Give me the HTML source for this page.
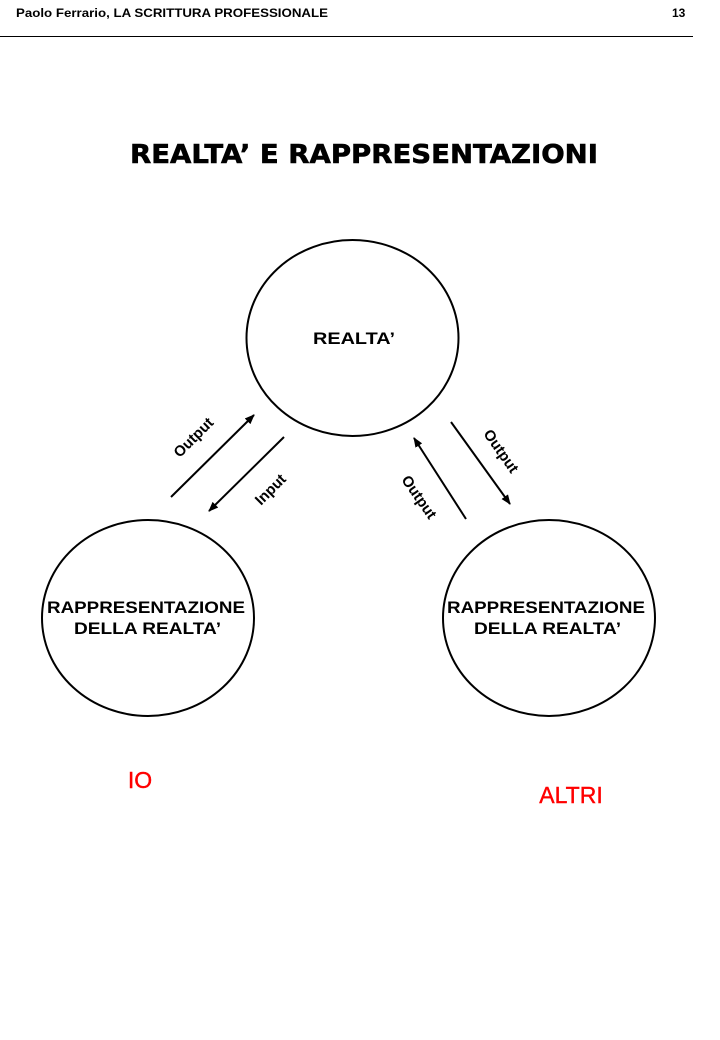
<!DOCTYPE html>
<html><head><meta charset="utf-8"><style>
html,body{margin:0;padding:0;background:#fff;width:720px;height:1040px;overflow:hidden}
</style></head><body>
<svg width="720" height="1040" viewBox="0 0 720 1040" xmlns="http://www.w3.org/2000/svg">
<defs><marker id="a" markerWidth="10" markerHeight="8" refX="9" refY="4" orient="auto" markerUnits="userSpaceOnUse"><path d="M0,0 L10,4 L0,8 z" fill="#000"/></marker></defs>
<g font-family="Liberation Sans, sans-serif" font-weight="bold">
<text x="16" y="17" font-size="12" textLength="312" lengthAdjust="spacingAndGlyphs">Paolo Ferrario, LA SCRITTURA PROFESSIONALE</text>
<text x="672" y="17" font-size="12">13</text>
<line x1="0" y1="36.5" x2="693" y2="36.5" stroke="#000" stroke-width="1"/>
<text x="130" y="163" font-family="DejaVu Sans, sans-serif" font-size="26" stroke="#000" stroke-width="0.6" textLength="468" lengthAdjust="spacingAndGlyphs">REALTA’ E RAPPRESENTAZIONI</text>
<g fill="none" stroke="#000" stroke-width="2">
<ellipse cx="352.5" cy="338" rx="106" ry="98"/>
<ellipse cx="148" cy="618" rx="106" ry="98"/>
<ellipse cx="549" cy="618" rx="106" ry="98"/>
</g>
<g stroke="#000" stroke-width="2" marker-end="url(#a)">
<line x1="171" y1="497" x2="254" y2="415"/>
<line x1="284" y1="437" x2="209" y2="511"/>
<line x1="466" y1="519" x2="414" y2="438"/>
<line x1="451" y1="422" x2="510" y2="504"/>
</g>
<text x="313" y="344" font-size="17" textLength="82" lengthAdjust="spacingAndGlyphs">REALTA’</text>
<text x="47" y="613" font-size="17" textLength="198" lengthAdjust="spacingAndGlyphs">RAPPRESENTAZIONE</text>
<text x="74" y="634" font-size="17" textLength="147" lengthAdjust="spacingAndGlyphs">DELLA REALTA’</text>
<text x="447" y="613" font-size="17" textLength="198" lengthAdjust="spacingAndGlyphs">RAPPRESENTAZIONE</text>
<text x="474" y="634" font-size="17" textLength="147" lengthAdjust="spacingAndGlyphs">DELLA REALTA’</text>
<g font-size="15" text-anchor="middle">
<text transform="translate(197,441) rotate(-45)">Output</text>
<text transform="translate(274,493) rotate(-45)">Input</text>
<text transform="translate(415,500) rotate(55)">Output</text>
<text transform="translate(497,454) rotate(55)">Output</text>
</g>
<text x="140" y="788" font-size="23" font-weight="normal" fill="#ff0000" stroke="#ff0000" stroke-width="0.4" text-anchor="middle">IO</text>
<text x="571" y="803" font-size="23" font-weight="normal" fill="#ff0000" stroke="#ff0000" stroke-width="0.4" text-anchor="middle">ALTRI</text>
</g>
</svg>
</body></html>
